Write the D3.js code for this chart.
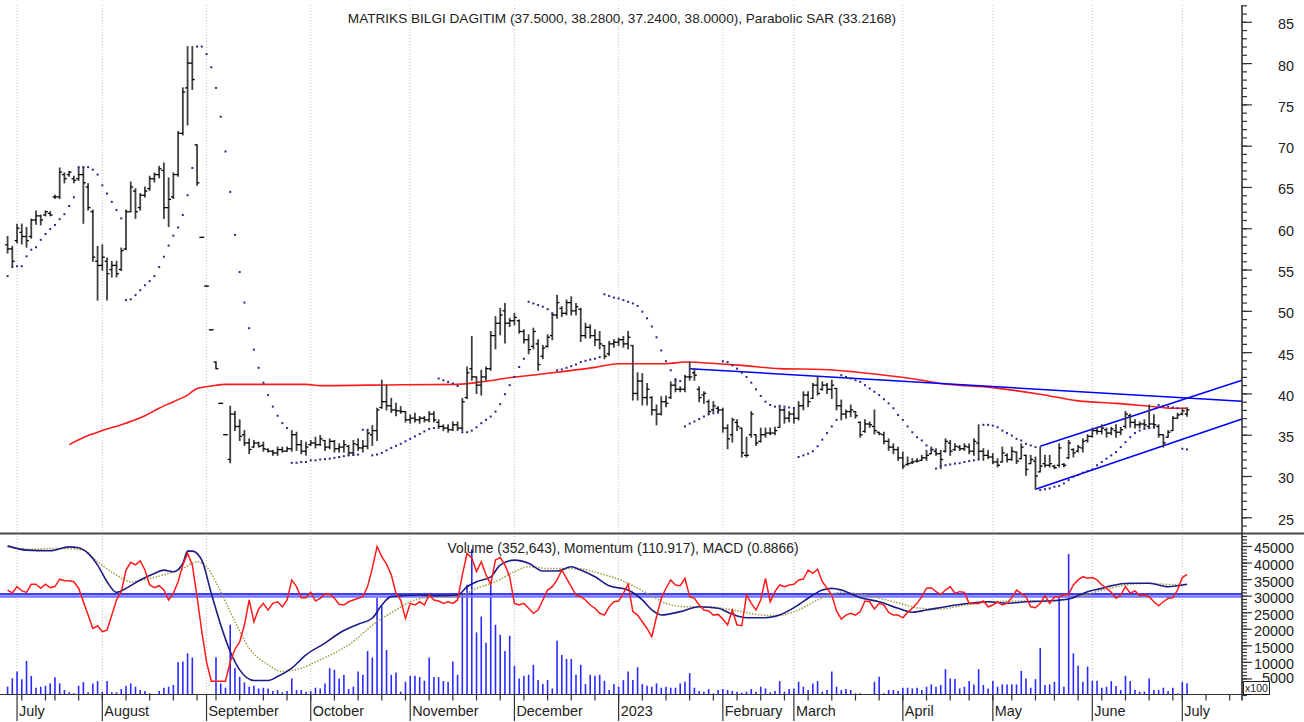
<!DOCTYPE html>
<html>
<head>
<meta charset="utf-8">
<script src="https://cdn.jsdelivr.net/npm/d3@7"></script>
<style>
  body { margin: 0; background: #fff; }
  svg { display: block; font-family: "Liberation Sans", Arial, sans-serif; }
</style>
</head>
<body>
<div id="container"></div>
<script>
let w = 1304;
let h = 722;
let plotRight = 1242;
let topY = 5;
let sepY = 533.5;
let botY = 694.5;

// TRADING CALENDAR (Borsa Istanbul closed days)
let holidays = ['2022-07-11', '2022-07-12', '2022-07-15', '2022-08-30',
  '2023-02-08', '2023-02-09', '2023-02-10', '2023-02-13', '2023-02-14',
  '2023-04-21', '2023-05-01', '2023-05-19', '2023-06-28', '2023-06-29', '2023-06-30'];

// DATA, one value per trading day from 2022-06-29
let open = [
  58.0, 57.5, 58.5, 59.5, 59.0, 59.0, 61.0, 61.5, 61.6, 61.8,
  63.8, 63.8, 66.5, 66.5, 66.0, 66.0, 66.5, 65.0, 62.0, 56.0,
  55.5, 56.0, 55.0, 55.5, 55.0, 57.5, 62.0, 64.5, 62.5, 64.0,
  64.8, 66.0, 66.5, 67.0, 62.5, 63.8, 66.5, 71.5, 77.0, 80.0,
  70.1, 58.9, 53.0, 47.7, 43.8, 38.8, 35.0, 32.0, 37.5, 36.0,
  35.0, 34.0, 33.5, 34.0, 33.7, 33.2, 33.0, 32.8, 33.2, 33.0,
  33.3, 35.0, 33.8, 33.0, 33.8, 34.0, 33.8, 34.3, 33.5, 34.2,
  33.3, 33.5, 33.6, 32.8, 33.8, 33.4, 33.6, 35.0, 35.5, 38.3,
  39.0, 38.5, 38.0, 37.9, 37.8, 36.8, 37.0, 36.8, 37.0, 36.8,
  37.5, 36.5, 36.0, 35.8, 35.6, 36.2, 35.8, 39.5, 43.0, 42.0,
  41.0, 42.0, 43.0, 47.0, 48.5, 50.0, 48.5, 48.8, 48.8, 47.5,
  46.5, 45.7, 46.0, 44.5, 45.7, 47.0, 49.5, 50.3, 49.7, 51.0,
  50.0, 50.2, 47.0, 48.0, 47.0, 46.5, 45.8, 44.8, 46.0, 46.2,
  46.5, 46.0, 45.8, 40.0, 41.5, 39.5, 39.5, 38.0, 37.5, 39.0,
  39.5, 41.0, 40.5, 40.5, 42.0, 42.5, 40.5, 39.8, 39.0, 38.0,
  38.2, 38.0, 35.8, 35.0, 36.5, 35.8, 32.5, 35.0, 35.0, 34.2,
  35.0, 35.2, 35.2, 35.9, 38.0, 37.0, 37.5, 37.0, 38.5, 39.8,
  39.4, 41.0, 40.5, 41.0, 40.5, 40.6, 38.5, 37.5, 37.8, 37.8,
  36.5, 35.4, 36.3, 36.0, 35.3, 35.0, 34.2, 33.5, 33.2, 32.2,
  31.4, 31.6, 31.8, 31.9, 32.2, 32.7, 33.0, 32.7, 33.0, 34.0,
  33.2, 33.5, 33.3, 33.5, 33.0, 34.0, 33.0, 32.5, 32.3, 31.7,
  31.7, 32.5, 32.0, 32.9, 32.1, 32.5, 31.5, 31.8, 30.5, 31.5,
  31.3, 31.2, 31.3, 31.4, 32.2, 33.2, 33.0, 33.4, 34.3, 34.8,
  35.5, 35.4, 35.6, 35.2, 35.5, 35.3, 36.0, 37.3, 36.5, 36.2,
  36.3, 36.0, 36.3, 36.0, 35.0, 34.7, 35.5, 37.0, 37.5, 37.5
];
let high = [
  59.0, 57.8, 60.5, 60.5, 60.1, 61.1, 62.1, 61.6, 62.1, 62.0,
  64.0, 67.3, 66.7, 66.9, 66.3, 67.3, 67.4, 65.4, 62.2, 57.8,
  58.0, 56.4, 56.0, 56.0, 57.6, 62.2, 65.6, 64.8, 64.2, 65.0,
  66.3, 66.7, 67.5, 67.9, 66.1, 66.7, 71.7, 77.0, 82.0, 82.0,
  70.1, 58.9, 53.0, 47.7, 43.8, 38.8, 35.0, 38.45, 37.8, 36.8,
  35.5, 34.5, 34.3, 34.1, 34.1, 33.3, 33.1, 33.5, 33.5, 33.5,
  35.5, 35.3, 34.3, 34.1, 34.3, 34.7, 34.9, 34.3, 34.5, 34.3,
  33.9, 34.3, 33.7, 34.3, 34.5, 34.3, 35.5, 36.1, 38.2, 41.6,
  41.0, 39.4, 38.8, 38.4, 37.8, 37.4, 37.6, 37.2, 37.2, 37.8,
  37.8, 36.8, 36.2, 36.2, 36.55, 36.55, 39.4, 43.2, 46.9, 42.0,
  42.8, 43.2, 47.5, 49.3, 50.3, 50.9, 49.1, 49.7, 48.9, 47.7,
  47.1, 47.9, 46.5, 45.8, 47.1, 49.7, 51.9, 50.5, 51.3, 51.7,
  50.9, 50.3, 48.5, 48.3, 47.7, 47.5, 45.8, 46.3, 46.5, 46.7,
  46.9, 47.5, 45.8, 42.5, 42.4, 41.2, 39.6, 38.6, 39.6, 39.7,
  41.4, 41.8, 40.8, 42.2, 43.8, 43.0, 40.8, 40.2, 39.2, 39.0,
  38.4, 38.2, 36.2, 37.0, 36.8, 35.8, 34.7, 37.8, 35.0, 35.8,
  35.8, 35.8, 35.9, 38.4, 38.2, 37.8, 38.2, 39.0, 40.2, 40.2,
  41.2, 42.0, 41.4, 41.2, 41.6, 40.6, 39.2, 38.0, 38.6, 37.8,
  36.55, 36.8, 36.55, 38.0, 35.3, 35.3, 34.5, 33.9, 33.5, 32.9,
  32.3, 32.1, 32.1, 32.5, 33.1, 33.5, 33.3, 33.1, 34.5, 34.3,
  33.9, 33.7, 33.9, 33.9, 34.5, 36.2, 33.3, 33.1, 32.7, 32.1,
  33.5, 32.7, 33.5, 32.9, 33.9, 32.5, 32.5, 32.3, 33.5, 32.5,
  32.5, 31.3, 33.9, 31.5, 34.3, 33.3, 33.7, 34.5, 35.0, 35.8,
  35.9, 36.2, 35.8, 35.9, 36.2, 35.9, 37.8, 37.5, 36.8, 36.55,
  36.8, 38.6, 37.4, 36.2, 35.0, 35.5, 37.2, 37.6, 38.2, 38.28
];
let low = [
  57.0, 55.4, 58.2, 58.1, 57.7, 58.8, 60.5, 60.4, 61.5, 61.5,
  63.6, 63.6, 65.5, 66.3, 65.5, 65.8, 60.6, 62.2, 56.0, 51.3,
  54.9, 51.3, 54.1, 54.1, 54.9, 57.4, 62.0, 61.2, 62.2, 63.8,
  64.6, 65.6, 66.1, 61.2, 60.2, 63.6, 66.3, 71.3, 72.5, 76.8,
  65.2, 58.9, 53.0, 47.7, 43.0, 38.8, 35.0, 31.6, 35.5, 34.3,
  33.7, 32.7, 33.5, 33.5, 33.0, 32.9, 32.5, 32.5, 32.9, 33.0,
  33.0, 33.1, 32.7, 32.5, 33.7, 33.4, 33.7, 33.1, 33.3, 32.9,
  32.9, 32.9, 32.5, 32.5, 33.1, 32.9, 33.3, 33.7, 34.3, 38.2,
  38.0, 37.7, 37.3, 37.6, 36.55, 36.4, 36.55, 36.4, 36.55, 36.55,
  36.55, 35.75, 35.5, 35.3, 35.5, 35.5, 35.5, 39.4, 41.6, 40.0,
  39.8, 41.6, 42.8, 45.4, 47.1, 46.1, 48.1, 48.3, 47.3, 46.1,
  44.8, 45.4, 42.8, 44.2, 45.6, 46.5, 49.1, 49.3, 49.5, 49.5,
  49.5, 46.3, 46.7, 46.7, 45.8, 45.4, 44.2, 44.6, 45.6, 45.8,
  45.6, 45.4, 39.2, 39.2, 38.6, 38.6, 37.4, 36.2, 37.4, 38.4,
  39.4, 40.2, 40.2, 40.2, 41.6, 41.6, 39.0, 38.8, 37.4, 37.8,
  37.6, 35.3, 33.3, 34.1, 35.5, 32.3, 32.3, 34.7, 33.7, 34.1,
  34.7, 35.0, 35.0, 35.9, 36.4, 36.55, 36.4, 36.8, 38.0, 38.4,
  39.4, 39.8, 40.4, 40.0, 39.4, 38.0, 36.8, 37.0, 37.2, 37.0,
  34.7, 35.3, 35.9, 35.1, 35.0, 33.9, 33.1, 32.7, 31.9, 30.9,
  31.3, 31.5, 31.7, 31.9, 31.9, 32.7, 32.5, 30.9, 32.9, 32.5,
  33.1, 33.1, 33.1, 32.7, 32.5, 32.1, 31.9, 32.1, 31.5, 31.1,
  31.7, 31.7, 31.9, 31.5, 32.1, 30.1, 31.5, 28.4, 30.5, 31.1,
  31.1, 30.9, 31.1, 31.1, 32.1, 32.3, 32.9, 32.9, 34.1, 34.7,
  35.1, 35.1, 34.7, 35.0, 34.7, 35.0, 35.8, 35.9, 35.8, 35.8,
  35.8, 35.8, 35.9, 34.7, 33.5, 34.7, 35.5, 37.0, 37.4, 37.24
];
let close = [
  57.5, 56.0, 60.0, 59.0, 58.5, 61.0, 61.5, 61.0, 62.0, 61.6,
  63.8, 66.8, 66.0, 66.8, 65.8, 66.5, 65.5, 62.5, 56.5, 55.5,
  56.5, 54.5, 55.5, 54.5, 57.3, 62.0, 65.0, 62.0, 64.0, 64.5,
  66.0, 66.5, 67.2, 62.5, 63.5, 66.5, 71.5, 76.5, 80.0, 78.0,
  65.5, 58.9, 53.0, 47.7, 43.0, 38.8, 35.0, 37.5, 36.0, 34.8,
  34.0, 33.2, 34.0, 33.6, 33.3, 33.0, 32.8, 33.2, 33.0, 33.3,
  35.0, 33.8, 33.0, 33.5, 34.0, 33.8, 34.5, 33.5, 34.2, 33.3,
  33.5, 33.8, 32.8, 33.9, 33.4, 33.6, 35.2, 35.5, 38.0, 39.0,
  38.5, 38.0, 37.9, 37.8, 36.8, 37.0, 36.8, 37.0, 36.8, 37.5,
  36.8, 36.0, 35.8, 35.6, 36.2, 35.8, 39.0, 42.5, 42.0, 41.0,
  42.0, 43.0, 47.0, 48.5, 49.5, 48.5, 48.8, 49.2, 47.5, 46.5,
  45.3, 47.5, 43.5, 45.5, 46.8, 49.5, 51.0, 49.7, 51.0, 50.0,
  50.5, 47.0, 48.0, 47.0, 46.5, 46.0, 44.5, 46.0, 46.2, 46.5,
  46.0, 46.8, 40.0, 41.5, 39.5, 40.5, 38.0, 37.5, 39.0, 38.8,
  41.0, 40.5, 40.5, 42.0, 42.0, 42.2, 39.5, 40.0, 37.8, 38.5,
  38.0, 35.8, 34.5, 36.8, 36.0, 32.8, 32.5, 37.5, 34.0, 35.0,
  35.2, 35.2, 35.5, 38.0, 37.0, 37.5, 37.0, 38.5, 39.8, 39.0,
  41.0, 40.0, 41.0, 40.5, 41.0, 38.5, 37.5, 37.8, 38.0, 37.3,
  35.0, 36.3, 36.2, 35.5, 35.1, 34.2, 33.5, 33.2, 32.2, 31.2,
  31.5, 31.7, 31.8, 32.2, 32.5, 33.2, 32.7, 32.0, 34.2, 33.0,
  33.6, 33.3, 33.6, 33.0, 34.2, 33.0, 32.5, 32.3, 31.7, 31.3,
  32.8, 32.0, 33.0, 31.8, 33.5, 30.8, 32.0, 30.0, 31.2, 31.3,
  31.5, 31.0, 33.4, 31.3, 34.0, 32.8, 33.5, 34.2, 34.8, 35.5,
  35.4, 35.8, 35.2, 35.7, 35.3, 35.6, 37.5, 36.5, 36.2, 36.3,
  36.2, 36.3, 36.2, 35.0, 34.0, 35.3, 37.0, 37.4, 37.9, 38.0
];
let sar = [
  54.2, 55.3, 55.4, 55.4, 56.6, 57.4, 57.7, 58.6, 59.3, 59.9,
  60.4, 61.1, 61.7, 62.7, 63.75, 67.4, 67.4, 67.4, 67.1, 66.5,
  65.2, 64.2, 63.2, 62.2, 61.2, 51.3, 51.4, 51.9, 52.5, 53.1,
  53.6, 54.2, 55.3, 56.55, 57.9, 59.1, 60.1, 61.6, 64.0, 67.3,
  82.0, 82.0, 81.1, 79.5, 77.0, 73.5, 69.3, 64.4, 59.2, 54.7,
  51.0, 47.9, 45.3, 43.1, 41.3, 39.8, 38.4, 37.3, 36.4, 35.8,
  31.6, 31.6, 31.7, 31.7, 31.9, 31.9, 32.0, 32.05, 32.1, 32.2,
  32.3, 32.4, 32.5, 32.55, 32.6, 35.6, 35.6, 32.5, 32.6, 32.8,
  33.1, 33.4, 33.65, 33.9, 34.2, 34.5, 34.8, 35.1, 35.4, 35.7,
  35.8, 41.8, 41.6, 41.4, 41.2, 40.9, 35.3, 35.3, 35.5, 35.9,
  36.4, 36.8, 37.2, 37.8, 38.7, 39.9, 41.0, 42.0, 43.2, 44.2,
  51.1, 50.9, 50.7, 50.5, 50.2, 49.7, 42.8, 42.9, 43.1, 43.3,
  43.5, 43.8, 43.95, 44.1, 44.2, 44.4, 52.0, 51.8, 51.6, 51.5,
  51.3, 51.1, 50.9, 50.6, 49.9, 49.1, 48.1, 46.8, 45.2, 43.9,
  42.8, 41.6, 41.5, 36.0, 36.35, 36.6, 36.9, 37.2, 37.5, 37.6,
  37.8, 43.9, 43.8, 43.4, 43.0, 42.5, 42.0, 41.3, 40.5, 39.7,
  39.0, 38.6, 38.4, 38.5, 38.4, 38.3, 38.25, 32.3, 32.5, 32.7,
  33.0, 33.6, 34.4, 35.2, 36.0, 36.8, 42.2, 42.0, 41.8, 41.6,
  41.4, 41.0, 40.6, 40.2, 39.8, 39.3, 38.8, 38.2, 37.4, 36.8,
  36.0, 35.3, 34.7, 34.3, 33.7, 33.2, 30.9, 31.2, 31.3, 31.4,
  31.5, 31.55, 31.7, 31.8, 31.9, 32.0, 36.2, 36.2, 36.1, 35.9,
  35.5, 35.2, 34.9, 34.5, 34.3, 33.9, 33.7, 33.5, 28.3, 28.4,
  28.5, 28.7, 28.8, 29.1, 29.5, 29.9, 30.1, 30.4, 30.6, 30.8,
  31.3, 31.7, 32.1, 32.5, 32.9, 33.5, 34.1, 34.7, 35.2, 35.5,
  35.7, 35.8, 35.85, 38.6, 38.5, 38.4, 38.3, 38.2, 33.3, 33.2168
];
// volume in hundreds of shares
let volume = [
  2500, 5060, 7060, 4750, 10300, 5760, 2200, 2500, 2800, 3500,
  5360, 3500, 1500, 800, 500, 2800, 3900, 800, 3500, 4200,
  1000, 4200, 800, 800, 1800, 2800, 3500, 2500, 1500, 1200,
  500, 300, 1200, 2200, 2500, 3000, 9900, 10100, 12600, 11300,
  200, 200, 200, 200, 11400, 3500, 2200, 21200, 8100, 5500,
  3800, 2500, 2800, 2000, 2200, 2000, 1200, 1500, 800, 1200,
  5000, 1500, 1500, 1000, 1200, 2200, 2000, 3500, 8100, 7600,
  5000, 6100, 1800, 2500, 7100, 6100, 13300, 11300, 29300, 26800,
  13600, 6100, 6800, 1000, 4000, 5800, 5800, 5400, 4300, 11300,
  5400, 5400, 4200, 4000, 10100, 6100, 30300, 33300, 44000, 18900,
  23700, 15800, 33300, 21200, 18200, 13300, 17900, 8800, 5000, 5800,
  6100, 9100, 4500, 3300, 4500, 2000, 16400, 12100, 10900, 10900,
  6100, 9100, 3300, 6100, 5800, 6100, 4300, 1500, 3300, 2500,
  4500, 7100, 4500, 8400, 3300, 2800, 2500, 3500, 2200, 2500,
  2200, 2200, 3500, 4000, 6600, 2200, 1200, 1000, 1800, 500,
  1500, 1800, 1500, 1200, 1000, 700, 1000, 1800, 1000, 2500,
  2000, 800, 1200, 4200, 1000, 1800, 2000, 4000, 2500, 1500,
  3500, 4200, 1000, 1500, 7100, 2500, 1500, 1800, 1500, 500,
  500, 300, 300, 4000, 5500, 500, 1500, 1500, 1200, 2200,
  2200, 2000, 2200, 1500, 2500, 3200, 2500, 3000, 7800, 5000,
  4800, 2000, 2500, 4200, 3200, 7800, 3000, 2000, 4200, 2500,
  3200, 3200, 3200, 3200, 7300, 5000, 2200, 4800, 14200, 3000,
  3200, 4000, 29800, 2500, 42600, 12600, 8800, 4000, 8600, 4300,
  4300, 2200, 2500, 4200, 2700, 1500, 5800, 4200, 1500, 1000,
  1000, 5000, 1500, 1500, 2200, 1200, 2200, 500, 4000, 3526.43
];
let momentum = [
  102.2, 100.6, 104.1, 101.7, 100.9, 105.4, 105.4, 103.2, 105.4, 103.5,
  104.1, 108.2, 107.4, 107.4, 106.8, 103.2, 95.7, 88.3, 80.9, 82.4,
  79.1, 80.0, 88.3, 96.7, 101.3, 113.3, 117.6, 116.1, 118.3, 113.3,
  105.0, 103.5, 104.6, 102.2, 96.7, 100.4, 106.8, 116.1, 122.6, 116.1,
  98.5, 79.1, 62.4, 51.7, 51.7, 51.7, 51.7, 62.4, 69.4, 73.5,
  82.8, 96.7, 84.6, 91.7, 94.8, 91.1, 94.8, 95.7, 92.9, 96.7,
  107.8, 104.1, 97.9, 97.9, 100.9, 96.1, 97.6, 100.0, 100.0, 97.6,
  94.3, 93.9, 95.7, 96.7, 97.6, 98.5, 104.1, 114.3, 126.3, 120.7,
  116.5, 110.6, 100.4, 96.7, 86.5, 94.8, 93.9, 95.7, 93.9, 99.4,
  96.7, 96.1, 94.8, 95.7, 94.8, 96.7, 110.6, 122.6, 119.8, 112.4,
  117.9, 110.6, 105.4, 118.9, 120.2, 116.1, 109.6, 94.8, 93.9, 94.8,
  92.1, 89.3, 91.1, 96.7, 102.2, 104.1, 107.8, 113.3, 108.7, 104.1,
  99.4, 98.5, 96.7, 93.9, 92.1, 89.3, 88.3, 92.9, 95.7, 96.1,
  100.4, 105.4, 90.2, 88.3, 84.6, 80.9, 76.3, 87.4, 97.6, 103.2,
  107.8, 105.0, 104.6, 108.7, 98.5, 97.6, 93.9, 91.1, 90.6, 88.3,
  88.7, 86.1, 82.8, 91.1, 82.8, 82.4, 99.4, 94.8, 91.1, 96.7,
  108.7, 95.7, 101.3, 105.0, 104.1, 105.0, 105.4, 107.8, 108.3, 113.3,
  111.5, 113.7, 106.8, 103.2, 99.4, 90.6, 86.1, 88.3, 89.3, 88.3,
  90.2, 96.1, 95.7, 91.7, 94.8, 93.9, 89.8, 88.3, 88.3, 86.8,
  89.8, 92.1, 94.8, 98.5, 103.2, 103.5, 101.3, 99.8, 102.2, 104.1,
  100.4, 101.3, 100.9, 94.8, 94.8, 94.8, 96.1, 92.9, 93.9, 95.7,
  93.9, 94.8, 97.9, 102.2, 100.4, 98.5, 92.9, 92.4, 94.8, 99.1,
  94.8, 98.5, 98.5, 99.4, 99.8, 105.0, 107.8, 109.6, 108.7, 109.1,
  107.8, 105.0, 103.2, 100.9, 97.6, 99.4, 104.1, 100.4, 101.7, 99.1,
  99.4, 98.5, 95.7, 93.5, 95.7, 97.6, 97.9, 102.2, 109.1, 110.917
];

// smooth series read at selected days: [day number, value]
let movingAvg = [[13, 33.8], [17, 34.9], [20, 35.5], [25, 36.4], [29, 37.3], [32, 38.2], [35, 39.0],
  [38, 39.8], [40, 40.6], [43, 40.9], [46, 41.1], [63, 41.1], [66, 40.95], [83, 41.05], [95, 41.1],
  [100, 41.4], [106, 41.9], [112, 42.3], [118, 42.7], [124, 43.15], [129, 43.6], [139, 43.6],
  [143, 43.8], [150, 43.6], [155, 43.4], [163, 43.0], [172, 42.9], [179, 42.6], [184, 42.3],
  [193, 41.6], [197, 41.2], [208, 40.7], [218, 39.9], [226, 39.1], [234, 38.8], [241, 38.45],
  [246, 38.2], [249, 38.2]];
let macd = [[0, 3.68], [4, 3.37], [9, 3.32], [13, 3.61], [15, 3.54], [17, 3.13], [19, 2.28], [21, 1.07],
  [23, 0.30], [25, 0.59], [28, 1.20], [31, 1.68], [33, 1.92], [35, 1.80], [37, 2.41], [38, 3.30],
  [39, 3.30], [41, 2.64], [43, 0.23], [45, -2.07], [47, -4.0], [49, -5.33], [52, -6.10], [55, -6.10],
  [57, -5.81], [60, -5.20], [63, -4.24], [67, -3.39], [70, -2.67], [74, -2.01], [77, -1.58],
  [79, -0.62], [81, -0.01], [87, 0.11], [91, 0.06], [95, 0.11], [97, 0.71], [99, 1.07], [102, 1.43],
  [104, 2.28], [107, 2.64], [110, 2.41], [113, 1.85], [116, 1.85], [119, 2.16], [121, 1.92],
  [124, 1.43], [127, 0.78], [131, 0.47], [134, -0.25], [136, -0.98], [138, -1.34], [142, -1.10],
  [146, -0.74], [150, -0.86], [153, -1.29], [156, -1.54], [160, -1.54], [163, -1.34], [167, -0.6],
  [169, -0.13], [172, 0.47], [174, 0.59], [176, 0.47], [180, -0.09], [184, -0.38], [188, -0.86],
  [191, -1.14], [194, -0.98], [198, -0.74], [203, -0.49], [207, -0.38], [211, -0.49], [215, -0.38],
  [219, -0.33], [224, -0.18], [228, 0.35], [231, 0.59], [233, 0.78], [237, 0.96], [241, 0.96],
  [245, 0.71], [247, 0.78], [249, 0.8866]];
let signal = [[0, 3.61], [5, 3.44], [12, 3.49], [16, 3.37], [19, 2.52], [23, 1.56], [26, 1.07], [30, 1.32],
  [34, 1.68], [37, 2.04], [40, 2.52], [42, 2.16], [45, 0.35], [48, -1.83], [51, -3.75], [55, -4.96],
  [58, -5.45], [62, -5.20], [66, -4.60], [72, -3.51], [78, -1.83], [82, -0.98], [86, -0.25],
  [91, -0.01], [95, -0.01], [99, 0.59], [103, 1.07], [107, 1.80], [110, 2.16], [114, 2.04],
  [120, 2.04], [125, 1.68], [131, 0.96], [135, 0.23], [139, -0.49], [143, -0.74], [148, -0.74],
  [153, -0.98], [159, -1.34], [162, -1.39], [167, -0.98], [171, -0.25], [176, 0.30], [181, 0.11],
  [187, -0.38], [193, -0.86], [197, -0.91], [202, -0.62], [208, -0.38], [214, -0.33], [219, -0.38],
  [223, -0.25], [228, 0.16], [232, 0.54], [236, 0.83], [241, 0.96], [245, 0.88], [249, 0.88]];

// trend lines: [day number, price] pairs
let trendLines = [
  [[144, 43.0], [260.6, 39.05]],
  [[218, 33.6], [260.6, 41.6]],
  [[217, 28.4], [260.6, 36.9]]
];

let priceTicks = d3.range(25, 90, 5);
let volumeTicks = d3.range(5000, 50000, 5000);

// CALENDAR
let days = [];
for (let t = Date.UTC(2022, 5, 29); t <= Date.UTC(2023, 6, 21); t += 864e5) {
  let d = new Date(t);
  let s = d.toISOString().slice(0, 10);
  if (d.getUTCDay() > 0 && d.getUTCDay() < 6 && !holidays.includes(s)) days.push(d);
}

// SCALES
let x = d3.scaleLinear().domain([-1.6, 260.6]).range([0, plotRight]);
let yP = d3.scaleLinear().domain([25, 85]).range([517.3, 21.8]);
let yV = d3.scaleLinear().domain([0, 45000]).range([695, 546]);
let yM = d3.scaleLinear().domain([100, 110.917]).range([594, 574.3]);
let yD = d3.scaleLinear().domain([0, 0.8866]).range([596.5, 584.3]);

let svg = d3.select("#container").append("svg")
  .attr("width", w)
  .attr("height", h)
  .style("background-color", "white");

// month and week positions
let monthIdx = [], weekIdx = [];
days.forEach((d, p) => {
  if (p == 0 || x(p) > plotRight) return;
  if (d.getUTCMonth() != days[p - 1].getUTCMonth()) monthIdx.push(p);
  if (d.getUTCDay() <= days[p - 1].getUTCDay()) weekIdx.push(p);
});

// GRIDLINES
svg.selectAll(".grid").data(monthIdx).enter()
  .append("line")
  .attr("class", "grid")
  .attr("x1", p => x(p)).attr("x2", p => x(p))
  .attr("y1", topY).attr("y2", botY)
  .attr("stroke", "#c4c4c4")
  .attr("stroke-width", 1)
  .attr("stroke-dasharray", "1,2");

// UPPER PANEL
let idx = d3.range(close.length);

svg.append("path")
  .datum(movingAvg)
  .attr("d", d3.line().x(d => x(d[0])).y(d => yP(d[1])).curve(d3.curveMonotoneX))
  .attr("fill", "none")
  .attr("stroke", "#ff1a1a")
  .attr("stroke-width", 1.6);

svg.selectAll(".trend").data(trendLines).enter()
  .append("path")
  .attr("class", "trend")
  .attr("d", d3.line().x(d => x(d[0])).y(d => yP(d[1])))
  .attr("fill", "none")
  .attr("stroke", "#0000ff")
  .attr("stroke-width", 1.5);

let bars = svg.append("g");
bars.selectAll(".hl").data(idx).enter()
  .append("line")
  .attr("class", "hl")
  .attr("x1", i => x(i)).attr("x2", i => x(i))
  .attr("y1", i => yP(high[i]) - 0.5).attr("y2", i => yP(low[i]) + 0.5)
  .attr("stroke", "#404040")
  .attr("stroke-width", 1.8);
bars.selectAll(".op").data(idx).enter()
  .append("line")
  .attr("class", "op")
  .attr("x1", i => x(i) - 2.4).attr("x2", i => x(i))
  .attr("y1", i => yP(open[i])).attr("y2", i => yP(open[i]))
  .attr("stroke", "#000")
  .attr("stroke-width", 1.3);
bars.selectAll(".cl").data(idx).enter()
  .append("line")
  .attr("class", "cl")
  .attr("x1", i => x(i)).attr("x2", i => x(i) + 2.4)
  .attr("y1", i => yP(close[i])).attr("y2", i => yP(close[i]))
  .attr("stroke", "#000")
  .attr("stroke-width", 1.3);

svg.selectAll(".sar").data(idx).enter()
  .append("rect")
  .attr("class", "sar")
  .attr("x", i => x(i) - 1)
  .attr("y", i => yP(sar[i]) - 1)
  .attr("width", 2)
  .attr("height", 2)
  .attr("fill", "#28288f");

// LOWER PANEL
svg.selectAll(".vol").data(idx).enter()
  .append("line")
  .attr("class", "vol")
  .attr("x1", i => x(i)).attr("x2", i => x(i))
  .attr("y1", yV(0)).attr("y2", i => yV(volume[i]))
  .attr("stroke", "#2a2aff")
  .attr("stroke-width", 1.6);

svg.append("line")
  .attr("x1", 0).attr("x2", plotRight)
  .attr("y1", yD(0)).attr("y2", yD(0))
  .attr("stroke", "#7676ff")
  .attr("stroke-width", 2.6);
svg.append("line")
  .attr("x1", 0).attr("x2", plotRight)
  .attr("y1", yM(100)).attr("y2", yM(100))
  .attr("stroke", "#0000e6")
  .attr("stroke-width", 1.3);

svg.append("path")
  .datum(signal)
  .attr("d", d3.line().x(d => x(d[0])).y(d => yD(d[1])).curve(d3.curveMonotoneX))
  .attr("fill", "none")
  .attr("stroke", "#a39c45")
  .attr("stroke-width", 1.5)
  .attr("stroke-dasharray", "1.5,1.5");

svg.append("path")
  .datum(macd)
  .attr("d", d3.line().x(d => x(d[0])).y(d => yD(d[1])).curve(d3.curveMonotoneX))
  .attr("fill", "none")
  .attr("stroke", "#1c1c84")
  .attr("stroke-width", 1.6);

svg.append("path")
  .datum(idx)
  .attr("d", d3.line().x(i => x(i)).y(i => yM(momentum[i])))
  .attr("fill", "none")
  .attr("stroke", "#ff1a1a")
  .attr("stroke-width", 1.5);

// SEPARATOR AND AXES
svg.append("line")
  .attr("x1", 0).attr("x2", w)
  .attr("y1", sepY).attr("y2", sepY)
  .attr("stroke", "#4a4a4a")
  .attr("stroke-width", 2);

svg.append("line")
  .attr("x1", 0).attr("x2", plotRight)
  .attr("y1", botY).attr("y2", botY)
  .attr("stroke", "#333")
  .attr("stroke-width", 1.2);

svg.append("line")
  .attr("x1", plotRight).attr("x2", plotRight)
  .attr("y1", topY).attr("y2", botY + 6)
  .attr("stroke", "#333")
  .attr("stroke-width", 1.6);

let axisG = svg.append("g").attr("transform", `translate(${plotRight},0)`);

function rightAxis(g, scale, major, minor, fmt) {
  g.append("g").call(d3.axisRight(scale).tickValues(minor).tickSize(5).tickFormat(""))
    .call(a => a.select(".domain").remove())
    .selectAll("line").attr("stroke", "#333").attr("stroke-width", 1.2);
  let m = g.append("g").call(d3.axisRight(scale).tickValues(major).tickSize(10).tickFormat(fmt))
    .call(a => a.select(".domain").remove());
  m.selectAll("line").attr("stroke", "#333").attr("stroke-width", 1.2);
  m.selectAll("text")
    .attr("x", 52)
    .attr("dy", "0.48em")
    .attr("text-anchor", "end")
    .attr("font-size", 14.4)
    .attr("font-family", "Liberation Sans, Arial, sans-serif")
    .attr("fill", "#222");
  return m;
}

rightAxis(axisG, yP, priceTicks, d3.range(24, 88).filter(v => yP(v) > topY && yP(v) < sepY), d => d);
let volAxis = rightAxis(axisG, yV, volumeTicks, d3.range(0, 49000, 1000).filter(v => yV(v) > sepY + 1 && yV(v) <= 695), d => d);
// lowest label sits just above the x100 box
volAxis.selectAll("text").filter(d => d == 5000).attr("dy", "0.3em");

// x100 box
svg.append("rect")
  .attr("x", 1243.5).attr("y", 681.5)
  .attr("width", 26).attr("height", 13)
  .attr("fill", "white")
  .attr("stroke", "#222");
svg.append("text")
  .attr("x", 1256.5).attr("y", 691.8)
  .attr("text-anchor", "middle")
  .attr("font-size", 10.5)
  .attr("fill", "#222")
  .text("x100");

// BOTTOM AXIS
svg.selectAll(".wtick").data(weekIdx).enter()
  .append("line")
  .attr("class", "wtick")
  .attr("x1", p => x(p)).attr("x2", p => x(p))
  .attr("y1", botY).attr("y2", botY + 6)
  .attr("stroke", "#333")
  .attr("stroke-width", 1.2);
svg.selectAll(".mtick").data(monthIdx).enter()
  .append("line")
  .attr("class", "mtick")
  .attr("x1", p => x(p)).attr("x2", p => x(p))
  .attr("y1", botY).attr("y2", 721)
  .attr("stroke", "#333")
  .attr("stroke-width", 1.2);
let monthName = d3.utcFormat("%B");
svg.selectAll(".mlabel").data(monthIdx).enter()
  .append("text")
  .attr("class", "mlabel")
  .attr("x", p => x(p) + 2)
  .attr("y", 716)
  .attr("font-size", 14.4)
  .attr("fill", "#222")
  .text(p => days[p].getUTCMonth() == 0 ? days[p].getUTCFullYear() : monthName(days[p]));

// TITLES
let n = close.length - 1;
let f4 = d3.format(".4f");
svg.append("text")
  .attr("x", 622).attr("y", 23)
  .attr("text-anchor", "middle")
  .attr("font-size", 13.6)
  .attr("fill", "#222")
  .text(`MATRIKS BILGI DAGITIM (${f4(open[n])}, ${f4(high[n])}, ${f4(low[n])}, ${f4(close[n])}), Parabolic SAR (${f4(sar[n])})`);

svg.append("text")
  .attr("x", 623).attr("y", 553)
  .attr("text-anchor", "middle")
  .attr("font-size", 13.8)
  .attr("fill", "#222")
  .text(`Volume (${d3.format(",")(Math.round(volume[n] * 100))}), Momentum (${d3.format(".3f")(momentum[n])}), MACD (${f4(macd[macd.length - 1][1])})`);
</script>
</body>
</html>
